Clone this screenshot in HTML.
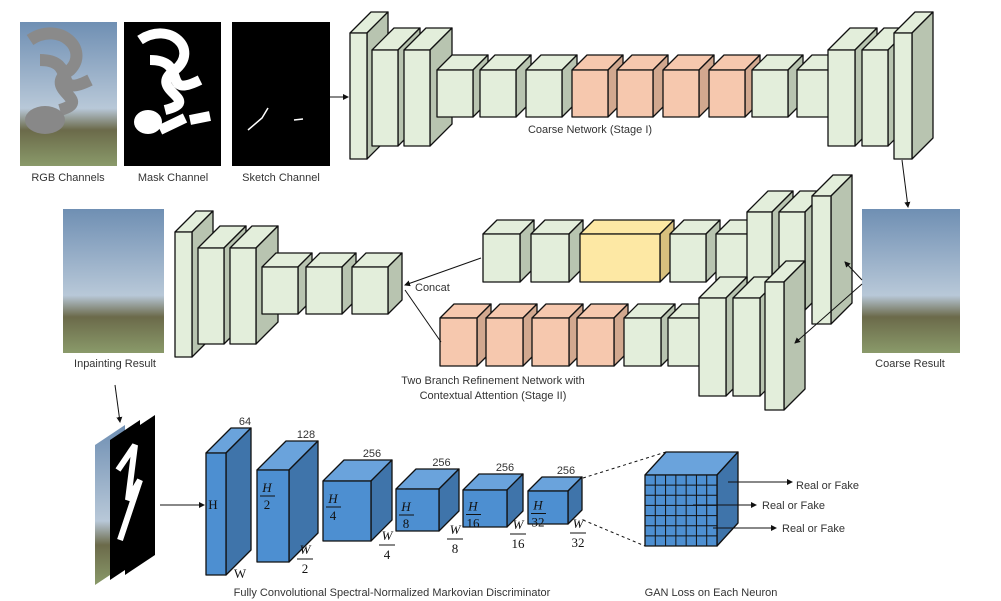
<!DOCTYPE html>
<html><head><meta charset="utf-8"><style>
body{margin:0;background:#fff;width:1001px;height:601px;overflow:hidden}
svg{display:block}
text{font-family:"Liberation Sans",sans-serif;fill:#333;font-size:11px}
.m{font-family:"Liberation Serif",serif;fill:#111;font-size:13px}
</style></head><body>
<svg id="s" width="1001" height="601" xmlns="http://www.w3.org/2000/svg">
<defs>
<marker id="ar" markerWidth="6" markerHeight="6" refX="5" refY="3" orient="auto"><path d="M0,0L6,3L0,6z" fill="#111"/></marker>
<linearGradient id="sky" x1="0" y1="0" x2="0" y2="1"><stop offset="0" stop-color="#6f8fb3"/><stop offset="0.6" stop-color="#b8c8d8"/><stop offset="0.75" stop-color="#6b6a4a"/><stop offset="1" stop-color="#8a9a6a"/></linearGradient>
</defs>
<g id="imgs">
<rect x="20" y="22" width="97" height="144" fill="url(#sky)"/>
<path d="M30,40 C60,20 90,50 70,70 C40,90 95,100 60,110 M40,60 C80,60 50,100 90,80" stroke="#8a8a8a" stroke-width="12" fill="none"/>
<ellipse cx="45" cy="120" rx="20" ry="14" fill="#888"/>
<rect x="124" y="22" width="97" height="144" fill="#000"/>
<path d="M140,40 C170,20 200,50 175,70 C145,90 205,100 165,110 M150,60 C190,60 160,100 200,80 M160,130 L185,118 M190,120 L210,116" stroke="#fff" stroke-width="10" fill="none"/>
<ellipse cx="148" cy="122" rx="14" ry="12" fill="#fff"/>
<rect x="232" y="22" width="98" height="144" fill="#000"/>
<path d="M248,130 L262,118 L268,108 M294,120 L303,119" stroke="#fff" stroke-width="1.5" fill="none"/>
<rect x="63" y="209" width="101" height="144" fill="url(#sky)"/>
<rect x="862" y="209" width="98" height="144" fill="url(#sky)"/>
<polygon points="95,445 125,425 125,565 95,585" fill="url(#sky)"/>
<polygon points="110,440 140,420 140,560 110,580" fill="#000"/>
<polygon points="125,435 155,415 155,555 125,575" fill="#000"/>
<path d="M118,470 L135,445 L128,500 L140,480 L120,540" stroke="#fff" stroke-width="6" fill="none"/>
</g>
<g id="cubes"></g>
<g id="lines" stroke="#111" fill="none" stroke-width="1">
<line x1="330" y1="97" x2="348" y2="97" marker-end="url(#ar)"/>
<line x1="902" y1="160" x2="908" y2="207" marker-end="url(#ar)"/>
<line x1="481" y1="258" x2="405" y2="285" marker-end="url(#ar)"/>
<line x1="441" y1="342" x2="405" y2="290"/>
<line x1="862" y1="280" x2="845" y2="262" marker-end="url(#ar)"/>
<line x1="862" y1="284" x2="795" y2="343" marker-end="url(#ar)"/>
<line x1="115" y1="385" x2="120" y2="422" marker-end="url(#ar)"/>
<line x1="160" y1="505" x2="204" y2="505" marker-end="url(#ar)"/>
<line x1="583" y1="478" x2="666" y2="452" stroke-dasharray="3,3"/>
<line x1="583" y1="520" x2="645" y2="546" stroke-dasharray="3,3"/>
<line x1="728" y1="482" x2="792" y2="482" marker-end="url(#ar)"/>
<line x1="693" y1="505" x2="756" y2="505" marker-end="url(#ar)"/>
<line x1="713" y1="528" x2="776" y2="528" marker-end="url(#ar)"/>
</g>
<g id="labels">
<text x="68" y="181" text-anchor="middle">RGB Channels</text>
<text x="173" y="181" text-anchor="middle">Mask Channel</text>
<text x="281" y="181" text-anchor="middle">Sketch Channel</text>
<text x="590" y="133" text-anchor="middle">Coarse Network (Stage I)</text>
<text x="415" y="291">Concat</text>
<text x="115" y="367" text-anchor="middle">Inpainting Result</text>
<text x="910" y="367" text-anchor="middle">Coarse Result</text>
<text x="493" y="384" text-anchor="middle">Two Branch Refinement Network with</text>
<text x="493" y="399" text-anchor="middle">Contextual Attention (Stage II)</text>
<text x="392" y="596" text-anchor="middle">Fully Convolutional Spectral-Normalized Markovian Discriminator</text>
<text x="711" y="596" text-anchor="middle">GAN Loss on Each Neuron</text>
<text x="796" y="489">Real or Fake</text>
<text x="762" y="509">Real or Fake</text>
<text x="782" y="532">Real or Fake</text>
</g>
</svg>
<script>
const NS="http://www.w3.org/2000/svg";
const G=document.getElementById('cubes');
function cube(x,y,w,h,d,dy,fr,tp,sd,name,sw){
  const g=document.createElementNS(NS,'g');
  
  
  const P=[[`${x},${y} ${x+d},${y-dy} ${x+w+d},${y-dy} ${x+w},${y}`,tp],
    [`${x+w},${y} ${x+w+d},${y-dy} ${x+w+d},${y+h-dy} ${x+w},${y+h}`,sd],
    [`${x},${y} ${x+w},${y} ${x+w},${y+h} ${x},${y+h}`,fr]];
  for(const [p,c] of P){const e=document.createElementNS(NS,'polygon');e.setAttribute('points',p);e.setAttribute('fill',c);e.setAttribute('stroke','#111');e.setAttribute('stroke-width',sw||1.3);e.setAttribute('stroke-linejoin','round');g.appendChild(e);}
  G.appendChild(g);
}
const GR=['#e3eedb','#e3eedb','#b8c4b0'], OR=['#f6c8ae','#f6c8ae','#d2a88f'], YE=['#fde8a4','#fde8a4','#d8c07e'];
const BL=['#4d8fd1','#6aa3dc','#3f74aa'];
function c(x,y,w,h,d,col,n){cube(x,y,w,h,d,d,col[0],col[1],col[2],n);}
c(350,33,17,126,21,GR,'coarse-layer-1');
c(372,50,26,96,22,GR,'coarse-layer-2');
c(404,50,26,96,22,GR,'coarse-layer-3');
[[437,GR],[480,GR],[526,GR],[572,OR],[617,OR],[663,OR],[709,OR],[752,GR],[797,GR]].forEach((a,i)=>c(a[0],70,36,47,15,a[1],'coarse-block-'+(i+4)));
c(828,50,27,96,22,GR,'coarse-layer-13');
c(862,50,26,96,22,GR,'coarse-layer-14');
c(894,33,18,126,21,GR,'coarse-layer-15');
c(483,234,37,48,14,GR,'attn-branch-1');
c(531,234,38,48,14,GR,'attn-branch-2');
c(580,234,80,48,14,YE,'contextual-attention-layer');
c(670,234,36,48,14,GR,'attn-branch-4');
c(716,234,34,48,14,GR,'attn-branch-5');
c(747,212,25,98,21,GR,'attn-branch-6');
c(779,212,26,98,21,GR,'attn-branch-7');
c(812,196,19,128,21,GR,'attn-branch-8');
[[440,OR],[486,OR],[532,OR],[577,OR],[624,GR],[668,GR]].forEach((a,i)=>c(a[0],318,37,48,14,a[1],'conv-branch-'+(i+1)));
c(699,298,27,98,21,GR,'conv-branch-7');
c(733,298,27,98,21,GR,'conv-branch-8');
c(765,282,19,128,21,GR,'conv-branch-9');
c(175,232,17,125,21,GR,'decoder-layer-1');
c(198,248,26,96,22,GR,'decoder-layer-2');
c(230,248,26,96,22,GR,'decoder-layer-3');
c(262,267,36,47,14,GR,'decoder-layer-4');
c(306,267,36,47,14,GR,'decoder-layer-5');
c(352,267,36,47,14,GR,'decoder-layer-6');
const dLab=['64','128','256','256','256','256'];
const D=[[206,453,20,122,25],[257,470,32,92,29],[323,481,48,60,21],[396,489,43,42,20],[463,490,44,37,16],[528,491,40,33,14]];
D.forEach((a,i)=>{cube(a[0],a[1],a[2],a[3],a[4],a[4],BL[0],BL[1],BL[2],'disc-layer-'+(i+1));
 const t=document.createElementNS(NS,'text');t.setAttribute('x',a[0]+a[2]/2+a[4]+4);t.setAttribute('y',a[1]-a[4]-3);t.setAttribute('text-anchor','middle');t.textContent=dLab[i];
 
 
 G.appendChild(t);});
const frac=['2','4','8','16','32'];
const WX=[305,387,455,518,578], WY=[554,540,534,529,528];
function txt(x,y,s,cl){const t=document.createElementNS(NS,'text');t.setAttribute('x',x);t.setAttribute('y',y);t.setAttribute('class',cl||'m');t.setAttribute('text-anchor','middle');t.textContent=s;
 
 
 G.appendChild(t);return t;}
function line(x1,y1,x2,y2){const l=document.createElementNS(NS,'line');l.setAttribute('x1',x1);l.setAttribute('y1',y1);l.setAttribute('x2',x2);l.setAttribute('y2',y2);l.setAttribute('stroke','#111');G.appendChild(l);}
txt(213,509,'H');txt(240,578,'W');
D.slice(1).forEach((a,i)=>{const hx=a[0]+10,hy=a[1]+Math.min(30,a[3]/2+10);txt(hx,hy-8,'H').setAttribute('font-style','italic');line(hx-7,hy-4,hx+8,hy-4);txt(hx,hy+9,frac[i]);
 const wx=WX[i],wy=WY[i];txt(wx,wy,'W').setAttribute('font-style','italic');line(wx-8,wy+5,wx+8,wy+5);txt(wx,wy+19,frac[i]);});
cube(645,475,72,71,21,23,BL[0],BL[1],BL[2],'gan-output-cube');
for(let i=1;i<7;i++){line(645+i*72/7,475,645+i*72/7,546);line(645,475+i*71/7,717,475+i*71/7);}
</script>
</body></html>
